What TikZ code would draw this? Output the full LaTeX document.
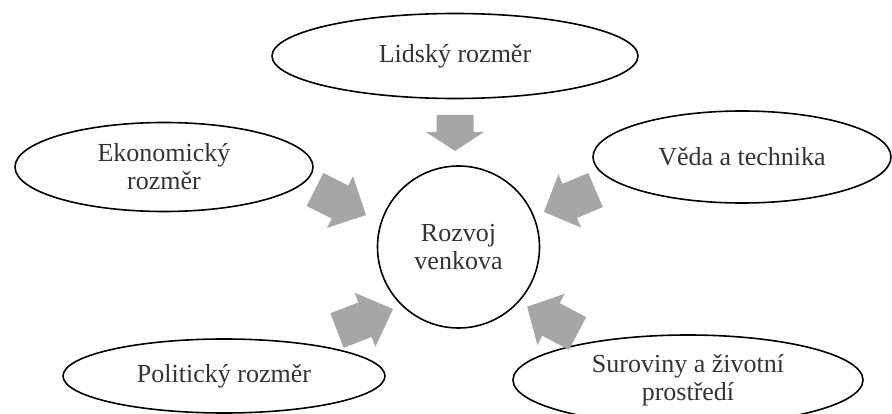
\documentclass[tikz,border=0pt]{standalone}
\usepackage{fontspec}
\setmainfont{Liberation Serif}
\usetikzlibrary{shapes.geometric}
\definecolor{arrowgray}{HTML}{A6A6A6}
\definecolor{textgray}{HTML}{333333}
\tikzset{
  bubble/.style={ellipse, draw=black, line width=1.6pt, inner sep=0pt, align=center,
    text=textgray, font=\fontsize{26}{28}\selectfont},
  pics/blockarr/.style n args={2}{code={
    \fill[arrowgray] (0,-18.5) -- (#1,-18.5) -- (#1,-29) -- (#2,0) -- (#1,29) -- (#1,18.5) -- (0,18.5) -- cycle;
  }}
}
\begin{document}
\begin{tikzpicture}[x=1pt,y=-1pt]
\useasboundingbox (0,0) rectangle (892,414);
\node[bubble, minimum width=366pt, minimum height=85pt] (lidsky) at (455,56) {Lidský rozměr};
\node[bubble, minimum width=298pt, minimum height=89pt] (ekon) at (164,167) {Ekonomický\\rozměr};
\node[bubble, minimum width=298pt, minimum height=92pt] (veda) at (742,157) {Věda a technika};
\node[bubble, circle, minimum size=162pt] (rozvoj) at (458.5,247) {Rozvoj\\venkova};
\node[bubble, minimum width=322pt, minimum height=74pt] (polit) at (224,376) {Politický rozměr};
\node[bubble, minimum width=350pt, minimum height=90pt] (surov) at (688,380) {Suroviny a životní\\prostředí};
\pic[rotate=-90] (a1) at (455,115) {blockarr={17}{36}};
\pic[rotate=-26.6] (a2) at (315,189.5) {blockarr={28}{57}};
\pic[rotate=203] (a3) at (595.5,190) {blockarr={28}{56}};
\pic[rotate=21] (a4) at (337,330.5) {blockarr={30}{60}};
\pic[rotate=152] (a5) at (577.5,333.5) {blockarr={30}{57}};
\end{tikzpicture}
\end{document}
